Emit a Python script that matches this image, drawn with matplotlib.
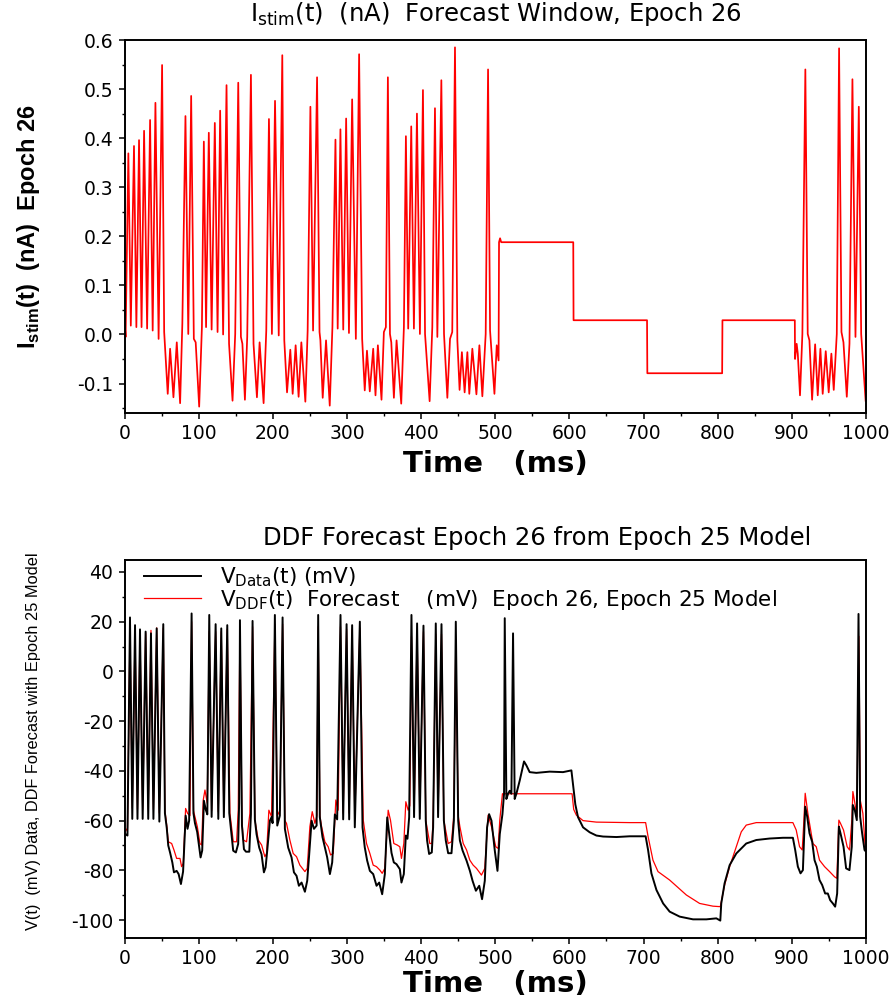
import matplotlib
matplotlib.use("Agg")
import matplotlib.pyplot as plt
from matplotlib.ticker import MultipleLocator, FormatStrFormatter

plt.rcParams['axes.unicode_minus'] = False
plt.rcParams['font.family'] = ['DejaVu Sans']

# ---------------- data ----------------
# Top panel: I_stim(t) (nA) vs time (ms)
STIM = [
    (0, 0.03), (1.5, -0.005), (5.2, 0.369), (8.5, 0.018), (12.8, 0.384), (16, 0.015),
    (19.6, 0.396), (23, 0.015), (26.4, 0.415), (30.5, 0.012), (34.5, 0.437), (38, 0.008),
    (41.7, 0.472), (46, -0.009), (50.7, 0.549), (53.5, 0.005), (58.3, -0.121), (61.5, -0.029),
    (66, -0.128), (70.5, -0.016), (75, -0.14), (78, 0.022), (82.2, 0.445), (86, 0.001),
    (89.9, 0.486), (93.5, -0.009), (96, -0.016), (100.7, -0.147), (104.4, 0.015), (107, 0.393),
    (110, 0.015), (113.7, 0.411), (117.5, 0.01), (121.8, 0.431), (125.5, 0.005), (129, 0.456),
    (133, 0.0), (137.6, 0.508), (141, -0.019), (145.7, -0.135), (149.3, 0.001), (153.4, 0.513),
    (157, -0.005), (159, -0.019), (162.4, -0.133), (165.5, -0.005), (170.5, 0.529), (174, -0.019),
    (178.6, -0.128), (182.2, -0.016), (187.6, -0.14), (191.2, 0.008), (194.8, 0.439), (198.8, 0.001),
    (203, 0.476), (208, -0.002), (212.8, 0.569), (215.5, -0.012), (219.2, -0.118), (223.6, -0.031),
    (226.8, -0.121), (230.8, -0.022), (234.8, -0.127), (238.5, -0.016), (243.9, -0.137), (247, 0.008),
    (250.7, 0.464), (254.3, 0.008), (259.7, 0.524), (263, 0.005), (264.2, -0.012), (267.3, -0.129),
    (271.8, -0.012), (276.8, -0.145), (280.4, 0.015), (284.5, 0.397), (287.5, 0.012), (291.2, 0.418),
    (295, 0.01), (298.9, 0.44), (302.7, 0.003), (307, 0.479), (312, -0.009), (316.4, 0.571),
    (320.5, -0.009), (324, -0.114), (327, -0.033), (330.8, -0.116), (335.4, -0.029), (338.5, -0.124),
    (341.7, -0.022), (346.6, -0.133), (349.8, 0.005), (352.5, 0.015), (355.2, 0.524), (358, 0.001),
    (359.8, -0.016), (363.3, -0.129), (366.9, -0.012), (373.2, -0.141), (376.8, 0.015), (379.5, 0.404),
    (382.6, 0.012), (386.7, 0.424), (390.3, 0.012), (394.4, 0.45), (398.4, 0.001), (402.5, 0.498),
    (405.3, 0.001), (411.5, -0.136), (415.1, 0.015), (418.7, 0.461), (421.9, -0.005), (427.3, 0.518),
    (430.9, 0.001), (435.4, -0.129), (439, -0.009), (442, 0.005), (445.7, 0.585), (448.9, -0.012),
    (451.9, -0.113), (455, -0.036), (458.7, -0.118), (462.4, -0.036), (465, -0.121), (469.1, -0.029),
    (474.6, -0.122), (478.6, -0.022), (482.6, -0.126), (487.1, 0.001), (490.3, 0.54), (493, 0.008),
    (498.9, -0.121), (502, -0.022), (504.5, -0.053), (505.1, 0.188), (506.5, 0.196), (508, 0.188),
    (605.2, 0.188), (605.6, 0.029), (704.7, 0.029), (705.1, -0.079), (806, -0.079), (806.4, 0.029),
    (904, 0.029), (904.3, -0.05), (906.5, -0.019), (908, -0.039), (911, -0.124), (914.2, 0.001),
    (918.2, 0.54), (921.4, 0.001), (923.7, -0.012), (927.3, -0.133), (931.4, -0.02), (934.9, -0.124),
    (938.5, -0.029), (941.6, -0.121), (945.7, -0.034), (949.7, -0.118), (953.3, -0.039), (956.5, -0.113),
    (960.6, 0.001), (963.7, 0.583), (966.9, 0.005), (969.6, -0.016), (974.1, -0.127), (977.7, -0.019),
    (981.7, 0.52), (985.8, -0.005), (990.3, 0.464), (993.5, 0.001), (999.5, -0.135),
]

# Bottom panel: V_Data(t) (mV)
V_DATA = [
    (0, -65), (1, -65.4), (4, -66), (7.4, 21.7), (10.5, -59.3), (14.2, 18.6), (17.5, -59.3),
    (20.9, 16.9), (24.5, -59.3), (28.5, 16), (32, -59.3), (35.7, 15.3), (39, -59.3), (43.4, 17.3),
    (47, -60.4), (52.3, 19), (54.5, -57), (57, -63), (59, -70), (61.5, -72.9), (64.5, -76.8),
    (66.7, -80.8), (70.3, -80.2), (73, -81.5), (76.1, -85.5), (79, -80.5), (82.5, -58), (85, -63.3),
    (87.2, -60), (90.5, 23.3), (93, -57), (95, -61), (98, -64.5), (100.6, -70.5), (102.6, -74.8),
    (104.8, -72), (107.1, -52), (109.5, -55.5), (111.7, -57.5), (114.3, 22.7), (117.5, -58.5),
    (122.9, 19), (126.5, -59.3), (130.5, 17.3), (134, -58.6), (138.6, 18.6), (141.3, -57),
    (144.4, -65.7), (146.6, -72.1), (150.2, -72.8), (153.3, -69.4), (154.6, -53), (155.7, 20.6),
    (158.4, -62), (161.1, -71.5), (163.8, -72.5), (168.3, -72.5), (170.5, -57.5), (172.7, 20.3),
    (175.8, -59.5), (178.1, -65.5), (181.7, -70.9), (184.8, -73.5), (188, -80.8), (190.3, -78.8),
    (192.5, -72), (196.1, -60), (198.4, -58.6), (199.7, -61), (202.8, 22.7), (206, -62),
    (209.5, -58), (213.2, 21.7), (216.3, -63.3), (220.8, -70.9), (225.3, -74.8), (228.5, -80.8),
    (232, -82.2), (235.2, -86.2), (238.8, -84.9), (243.3, -88.6), (246.4, -84.2), (249.1, -73.5),
    (252.3, -60), (255.5, -63.3), (259.1, -62), (261.2, 22.7), (263.4, -58.6), (267, -66.6),
    (270.2, -70.7), (273.3, -74.7), (277, -81.5), (280.1, -76.8), (283.7, -57.5), (286.8, -59.5),
    (291.3, 22.7), (294.9, -59.5), (299.5, 19), (303, -59.5), (307, 18.6), (310.6, -62.7),
    (317.4, 20), (321, -62.7), (324, -70.7), (327.2, -76), (330.9, -80.2), (335.4, -81.5),
    (339.9, -86.2), (343.5, -84.9), (347.5, -89.6), (351.1, -81.5), (354.3, -58.7), (357, -65.4),
    (360.1, -73), (363.2, -76.8), (366.8, -77.5), (371.3, -79.5), (373.5, -84.9), (376.7, -81.5),
    (379.4, -66), (381.6, -67.3), (383.9, -58.6), (387, 22.7), (390.5, -58.6), (394.6, 19.3),
    (398.2, -59.3), (403.2, 18.4), (406.3, -60), (408.1, -68), (410.8, -73.4), (414.4, -72.8),
    (416.2, -62.7), (419.8, 19.3), (422.9, -58.6), (427.5, 19), (430.7, -60), (433.3, -68),
    (436.5, -73.1), (441, -73.1), (444.2, -60), (446.8, 20), (450, -60), (452.3, -68),
    (455.9, -72), (461.3, -76.1), (465.8, -80.2), (469.4, -84.2), (473.9, -88.2), (478.4, -86.2),
    (482.2, -91.6), (485.9, -84.2), (489, -62.7), (491.7, -57.4), (494.9, -60), (499.4, -72.1),
    (503, -80.2), (506.1, -65.4), (509.7, -57.4), (511.9, -49), (512.8, 21.4), (515, -51.3),
    (517.3, -49.2), (519.5, -48), (521.8, -49.2), (524, 15.3), (526.2, -51.3), (528.5, -49.2),
    (533, -43.9), (538.8, -36.2), (542, -37.8), (546.4, -40.5), (555.4, -40.8), (573.4, -40.3),
    (591.4, -40.5), (602.7, -39.8), (604.9, -45.6), (608, -53.5), (611.6, -58.6), (618.4, -62.7),
    (627.4, -64.7), (636.4, -66), (645.4, -66.4), (663.4, -66.6), (681.3, -66.3), (702.8, -66.3),
    (706.1, -71.8), (710.6, -81.2), (717.4, -87.9), (726.4, -93.3), (735.2, -96.6), (748.7, -98.6),
    (766.7, -99.7), (784.7, -99.7), (798.2, -99.3), (803.5, -100.2), (804.8, -93.3), (809.3, -85.2),
    (816.1, -77.9), (825.1, -73.2), (838.5, -69.2), (852, -67.8), (870, -67.2), (888, -66.9),
    (901.4, -66.9), (904.5, -71.8), (908.1, -78.5), (911.7, -81.2), (914.9, -79.9), (918, -54.4),
    (920.7, -58.4), (923.8, -65.1), (927.4, -68.5), (930.6, -75.9), (933.7, -78.5), (937.3, -83.9),
    (940.9, -85.9), (944.9, -89.3), (948.5, -89.3), (951.7, -92), (955.3, -93.3), (958.4, -94.6),
    (961.1, -89.3), (963.4, -62.4), (965.6, -65.1), (969.7, -70.5), (973.2, -79.2), (977.7, -79.9),
    (980.8, -70.5), (982.2, -53.7), (984.9, -55.8), (987.6, -59.8), (989.9, 23.1), (992.1, -58.4),
    (994.8, -65.1), (998, -71.8), (1000, -72.5),
]

# Bottom panel: V_DDF(t) forecast (mV)
V_DDF = [
    (0, -64.5), (1, -64.5), (4, -63), (7.4, 16.5), (10.5, -55), (14.2, 15.5), (17.5, -55.5),
    (20.9, 15), (24.5, -55.5), (28.5, 15.5), (32, -55.5), (35.7, 16.5), (39, -55.5), (43.4, 17.5),
    (47, -57), (52.3, 17.5), (54.5, -56), (57, -62), (59, -68.5), (63.6, -69.2), (66.7, -71.8),
    (70.3, -75.2), (74.8, -75.2), (77, -78.5), (79.3, -77.2), (82.4, -55.1), (85.1, -57.1),
    (88.3, -58), (90.5, 20), (93, -56), (95, -58.4), (98.2, -62.4), (101.7, -69.2), (104, -69.8),
    (106.2, -51.7), (108.5, -47.7), (111.6, -53), (114.3, 16), (117.5, -56), (122.9, 16),
    (126.5, -56.5), (130.5, 16), (134, -56.5), (138.6, 17), (142.2, -57.1), (146.7, -68.5),
    (151.2, -68.5), (153.4, -55.8), (155.7, 18), (158.4, -60), (160.2, -67.8), (164.6, -68.5),
    (169.1, -57.1), (172.7, 18), (175.9, -59.8), (180.4, -67.8), (184.9, -69.8), (189.3, -74.5),
    (191.6, -73.2), (194.7, -55.8), (198.3, -58.4), (202.8, 19), (206, -58), (209.5, -56),
    (213.2, 19), (216.3, -60), (218.5, -61.1), (223, -67.8), (227.5, -73.2), (232, -74.5),
    (236.5, -77.9), (243.3, -80.5), (246.4, -79.2), (250, -62.4), (253.2, -56.4), (256.8, -61.1),
    (259.5, -58), (261.2, 18), (263.5, -58), (265.8, -62.4), (270.2, -68.5), (274.7, -70.5),
    (277.9, -73.8), (281.5, -73.2), (285, -51.7), (288.2, -55.8), (291.3, 18), (294.9, -57),
    (299.5, 17), (303, -57), (307, 17), (310.6, -59), (317.4, 17.5), (322, -59.8), (326.4, -69.2),
    (330.9, -73.2), (335.4, -77.9), (339.8, -78.5), (344.4, -79.9), (347.5, -81.2), (351.1, -79.2),
    (355.6, -55.8), (358.7, -59.8), (363.2, -69.2), (367.7, -69.8), (371.3, -70.5), (373.5, -75.2),
    (376.7, -69.2), (379.4, -52.4), (382.5, -55.8), (384.8, -54), (387, 14), (390.6, -57),
    (394.6, 16), (398.2, -57), (403.2, 16), (406.3, -59.8), (411.7, -69.2), (414.4, -69.2),
    (416.2, -60), (419.8, 15), (422.9, -57), (427.5, 15), (430.6, -59.8), (436.5, -69.2),
    (441, -68.5), (444.1, -58), (446.8, 12), (450, -58), (452.3, -62.4), (456.8, -69.2),
    (461.3, -71.8), (465.7, -75.9), (470.2, -77.9), (474.7, -79.2), (481.4, -81.9), (485.9, -79.2),
    (490.4, -57.8), (494.9, -62.4), (500.7, -70.5), (503.9, -71.2), (506.1, -59.8), (509.7, -49.2),
    (603.6, -49.2), (605.8, -55.5), (609.4, -57.8), (618.4, -60), (636.4, -60.6), (681.3, -60.8),
    (702.8, -60.8), (706.1, -66.4), (712.7, -75.9), (719.5, -80.5), (735.2, -83.9), (757.7, -89.9),
    (775.6, -93.3), (793.6, -94.4), (803.5, -94.6), (809.3, -85.9), (816.1, -78.5), (825.1, -70.5),
    (831.8, -64.5), (838.5, -61.8), (852, -60.8), (901.4, -60.8), (905.9, -63.8), (910.4, -70.5),
    (914, -71.8), (915.8, -62.4), (918, -49), (921.6, -57.1), (926.1, -65.1), (928.4, -69.2),
    (932.9, -70.5), (937.3, -75.9), (944.1, -78.5), (950.9, -80.5), (957.6, -82.6), (960.7, -83.2),
    (963.4, -59.8), (965.6, -61.1), (969.7, -63.8), (974.6, -70.5), (977.8, -71.8), (980.9, -59.8),
    (982.3, -48.3), (985, -53), (987.7, -58.4), (990.4, 14.1), (992.2, -51.7), (995.8, -57.1),
    (998.9, -70.5), (1000, -71),
]

X_TICKS = [0, 100, 200, 300, 400, 500, 600, 700, 800, 900, 1000]
TOP_Y_TICKS = [-0.1, 0.0, 0.1, 0.2, 0.3, 0.4, 0.5, 0.6]
BOT_Y_TICKS = [-100, -80, -60, -40, -20, 0, 20, 40]

TOP_TITLE = r"I$_{\mathregular{stim}}$(t)  (nA)  Forecast Window, Epoch 26"
TOP_YLABEL = r"I$_{\mathregular{stim}}$(t)  (nA)  Epoch 26"
BOT_TITLE = "DDF Forecast Epoch 26 from Epoch 25 Model"
BOT_YLABEL = "V(t)  (mV) Data, DDF Forecast with Epoch 25 Model"
XLABEL = "Time   (ms)"
LEG_DATA = r"V$_{\mathregular{Data}}$(t) (mV)"
LEG_DDF = r"V$_{\mathregular{DDF}}$(t)  Forecast    (mV)  Epoch 26, Epoch 25 Model"

# ---------------- figure ----------------
W, H = 896, 1000
fig = plt.figure(figsize=(W / 100, H / 100), dpi=100)

def axes_px(left, top, right, bottom):
    return fig.add_axes([left / W, 1 - bottom / H, (right - left) / W, (bottom - top) / H])

ax1 = axes_px(124.5, 40, 866, 413)
ax2 = axes_px(124.5, 560, 866, 938)

arial = ['Liberation Sans', 'DejaVu Sans']

def style(ax):
    for s in ax.spines.values():
        s.set_linewidth(1.4)
    ax.tick_params(which='major', direction='out', length=4, width=1.1, labelsize=13.5, pad=4)
    ax.tick_params(which='minor', direction='out', length=2.3, width=1.0)
    ax.tick_params(top=False, right=False)
    ax.set_xlim(0, 1000)
    ax.set_xticks(X_TICKS)
    ax.xaxis.set_minor_locator(MultipleLocator(50))

# top panel
style(ax1)
ax1.plot([p[0] for p in STIM], [p[1] for p in STIM], color='#ff0000', lw=1.25)
ax1.set_ylim(-0.16, 0.6)
ax1.set_yticks(TOP_Y_TICKS)
ax1.yaxis.set_major_formatter(FormatStrFormatter('%.1f'))
ax1.yaxis.set_minor_locator(MultipleLocator(0.05))

# bottom panel
style(ax2)
l_ddf, = ax2.plot([p[0] for p in V_DDF], [p[1] for p in V_DDF], color='#ff0000', lw=0.9, zorder=2)
l_dat, = ax2.plot([p[0] for p in V_DATA], [p[1] for p in V_DATA], color='black', lw=1.4, zorder=3)
ax2.set_ylim(-107.2, 44.8)
ax2.set_yticks(BOT_Y_TICKS)
ax2.yaxis.set_minor_locator(MultipleLocator(10))
ax2.legend([l_dat, l_ddf], [LEG_DATA, LEG_DDF], loc='upper left', bbox_to_anchor=(0.02, 0.998),
           frameon=False, fontsize=15.5, handlelength=2.65, handletextpad=0.9,
           labelspacing=-0.04, borderpad=0.2, borderaxespad=0.0)

# titles / labels placed in pixel positions
def ftext(x, y, s, **kw):
    fig.text(x / W, 1 - y / H, s, **kw)

ftext(496, 21, TOP_TITLE, ha='center', va='baseline', fontsize=17.5)
ftext(537, 545, BOT_TITLE, ha='center', va='baseline', fontsize=17.5)
ftext(495, 472, XLABEL, ha='center', va='baseline', fontsize=21, fontweight='bold')
ftext(495, 992, XLABEL, ha='center', va='baseline', fontsize=21, fontweight='bold')
ftext(29, 227, TOP_YLABEL, ha='center', va='center', rotation=90, fontsize=17,
      fontweight='bold', family=arial)
ftext(34, 741, BOT_YLABEL, ha='center', va='center', rotation=90, fontsize=11.8,
      family=arial)

fig.savefig('out.png', dpi=100)
